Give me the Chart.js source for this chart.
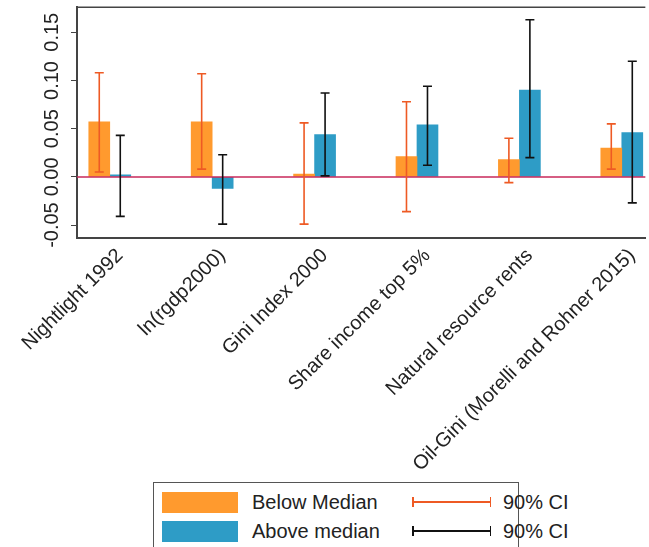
<!DOCTYPE html>
<html><head><meta charset="utf-8">
<script src="https://cdn.jsdelivr.net/npm/chart.js@4/dist/chart.umd.min.js"></script>
<style>
body{margin:0;background:#fff;font-family:"Liberation Sans",Arial,sans-serif;}
#wrap{position:relative;width:649px;height:547px;overflow:hidden}
#c{position:absolute;left:0;top:0}
#legend{position:absolute;left:153px;top:482px;width:366px;height:80px;border:1.5px solid #555;box-sizing:border-box;font-size:20px;color:#222;background:#fff;white-space:nowrap}
.row{position:absolute;left:8px;height:22px;display:flex;align-items:center}
.sw{width:76px;height:21px;margin-right:14px}
.lt{width:160px}
.ci{width:79px;height:10px;position:relative;margin-right:12px}
.ci i{position:absolute;left:0;right:0;top:4px;height:1.5px}
.ci b{position:absolute;top:0;width:1.5px;height:10px}
</style></head><body>
<div id="wrap"><canvas id="c" width="649" height="482" style="width:649px;height:482px"></canvas>
<div id="legend">
 <div class="row" style="top:8px"><div class="sw" style="background:#FF9A2E"></div><span class="lt">Below Median</span><div class="ci"><i style="background:#EE5A24"></i><b style="left:0;background:#EE5A24"></b><b style="right:0;background:#EE5A24"></b></div><span>90% CI</span></div>
 <div class="row" style="top:37px"><div class="sw" style="background:#2E9CC6"></div><span class="lt">Above median</span><div class="ci"><i style="background:#111"></i><b style="left:0;background:#111"></b><b style="right:0;background:#111"></b></div><span>90% CI</span></div>
</div></div>
<script>
const categories=["Nightlight 1992","ln(rgdp2000)","Gini Index 2000","Share income top 5%","Natural resource rents","Oil-Gini (Morelli and Rohner 2015)"];
const belowVals=[0.057,0.057,0.003,0.021,0.018,0.030];
const belowLo=[0.005,0.008,-0.049,-0.036,-0.006,0.008];
const belowHi=[0.108,0.107,0.056,0.078,0.040,0.055];
const aboveVals=[0.002,-0.012,0.044,0.054,0.090,0.046];
const aboveLo=[-0.041,-0.049,0.001,0.012,0.020,-0.027];
const aboveHi=[0.043,0.023,0.087,0.094,0.163,0.120];
const yTicks=[-0.05,0.00,0.05,0.10,0.15];

const ciSets=[{lo:belowLo,hi:belowHi,color:'#EE5A24'},{lo:aboveLo,hi:aboveHi,color:'#111'}];
const plug={id:'extras',
 afterDatasetsDraw(ch){
  const ctx=ch.ctx,y=ch.scales.y,a=ch.chartArea;
  ctx.save();
  ctx.strokeStyle='#C8285A';ctx.lineWidth=1.5;
  ctx.beginPath();ctx.moveTo(a.left,y.getPixelForValue(0));ctx.lineTo(a.right,y.getPixelForValue(0));ctx.stroke();
  ciSets.forEach((s,di)=>{
   const meta=ch.getDatasetMeta(di);
   meta.data.forEach((el,i)=>{
    const x=el.x,y1=y.getPixelForValue(s.lo[i]),y2=y.getPixelForValue(s.hi[i]);
    ctx.strokeStyle=s.color;ctx.lineWidth=1.6;ctx.beginPath();
    ctx.moveTo(x,y1);ctx.lineTo(x,y2);
    ctx.moveTo(x-4.5,y1);ctx.lineTo(x+4.5,y1);
    ctx.moveTo(x-4.5,y2);ctx.lineTo(x+4.5,y2);ctx.stroke();
   });
  });
  ctx.strokeStyle='#444';ctx.lineWidth=1.5;
  ctx.beginPath();ctx.moveTo(a.left,a.top);ctx.lineTo(a.right,a.top);ctx.stroke();
  ctx.fillStyle='#222';ctx.font='20px "Liberation Sans", Arial';ctx.textAlign='center';ctx.textBaseline='middle';
  yTicks.forEach(v=>{const py=y.getPixelForValue(v);ctx.save();ctx.translate(52,py);ctx.rotate(-Math.PI/2);ctx.fillText(v.toFixed(2),0,0);ctx.restore();});
  ctx.restore();
 }};
new Chart(document.getElementById('c'),{
 type:'bar',
 data:{datasets:[
  {label:'Below Median',data:belowVals.map((v,i)=>({x:i,y:v})),backgroundColor:'#FF9A2E',barThickness:21},
  {label:'Above median',data:aboveVals.map((v,i)=>({x:i,y:v})),backgroundColor:'#2E9CC6',barThickness:21}
 ]},
 options:{responsive:false,animation:false,devicePixelRatio:1,
  layout:{padding:{top:6,right:0,left:0,bottom:0}},
  plugins:{legend:{display:false},tooltip:{enabled:false}},
  scales:{
   x:{type:'linear',min:-0.32,max:5.23,offset:false,
    afterBuildTicks(s){s.ticks=categories.map((c,i)=>({value:i+0.1}));},
    afterFit(s){s.height=244;},
    grid:{display:false,drawTicks:true,tickLength:6,tickColor:'#444'},
    border:{color:'#444',width:2},
    ticks:{callback:(v)=>categories[Math.round(v)]??'',minRotation:45,maxRotation:45,autoSkip:false,color:'#222',font:{size:20,family:'"Liberation Sans", Arial'},padding:0}},
   y:{min:-0.0634,max:0.176,
    afterBuildTicks(s){s.ticks=yTicks.map(v=>({value:v}));},
    afterFit(s){s.width=77;},
    grid:{display:true,drawOnChartArea:false,tickLength:6,tickColor:'#444'},
    border:{color:'#444',width:2},
    ticks:{callback:()=>'',padding:0}}
  }},
 plugins:[plug]
});
</script></body></html>
